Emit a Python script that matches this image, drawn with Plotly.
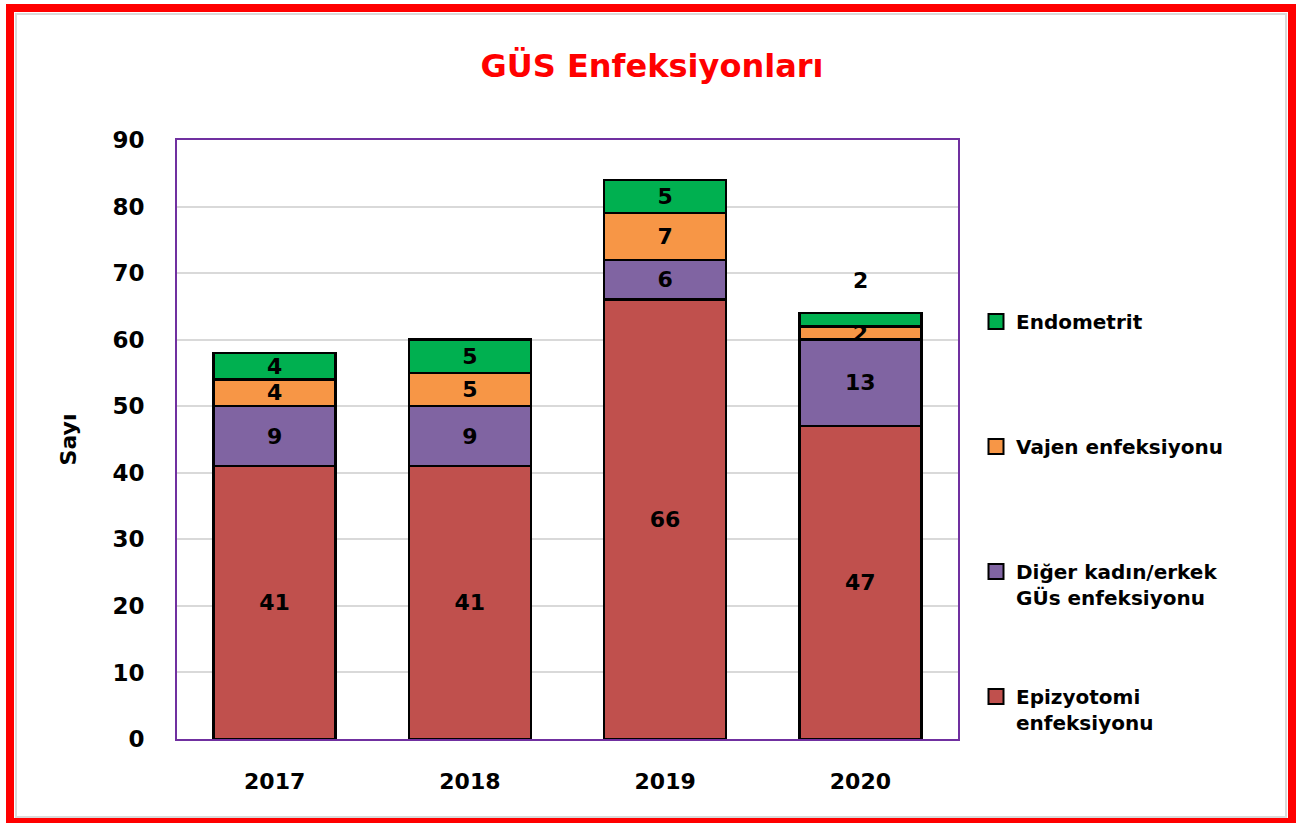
import plotly.graph_objects as go

years = ["2017", "2018", "2019", "2020"]
epizyotomi = [41, 41, 66, 47]
diger = [9, 9, 6, 13]
vajen = [4, 5, 7, 2]
endometrit = [4, 5, 5, 2]

names = ["Epizyotomi<br>enfeksiyonu", "Diğer kadın/erkek<br>GÜs enfeksiyonu",
         "Vajen enfeksiyonu<br> ", "Endometrit<br> "]
colors = ["#C0504D", "#8064A2", "#F79646", "#00B050"]
series = [epizyotomi, diger, vajen, endometrit]

W, H = 1304, 823
L, R, T, B = 177, 958, 140, 739

def px(x):
    return (x - L) / (R - L)

def py(y):
    return (B - y) / (B - T)

FONT = "DejaVu Sans"
fig = go.Figure()
for i, (nm, col, vals) in enumerate(zip(names, colors, series)):
    texts = [str(v) for v in vals]
    if i == 3:
        texts[3] = ""
    rank = 10 * (len(series) - i)
    fig.add_trace(go.Bar(
        x=years, y=vals, name=nm, legendgroup=str(i), showlegend=False, legendrank=rank,
        marker=dict(color=col, line=dict(color="black", width=2.5)),
        text=texts, textposition="inside", insidetextanchor="middle", textangle=0,
        textfont=dict(family=FONT, size=22, color="black", weight="bold"),
        width=0.625, cliponaxis=False,
    ))
    # legend entry with a larger square symbol
    fig.add_trace(go.Scatter(
        x=[None], y=[None], mode="markers", name=nm, legendgroup=str(i), legendrank=rank,
        marker=dict(symbol="square", size=15, color=col, line=dict(color="black", width=2)),
        hoverinfo="skip",
    ))

totals = [a + b + c + d for a, b, c, d in zip(epizyotomi, diger, vajen, endometrit)]
fig.add_annotation(x=len(years) - 1, y=totals[3], xref="x", yref="y", text=str(endometrit[3]),
                   showarrow=False, yanchor="bottom", yshift=18,
                   font=dict(family=FONT, size=22, color="black", weight="bold"))

shapes = [
    dict(type="rect", xref="paper", yref="paper", x0=px(10), x1=px(1292), y0=py(8), y1=py(822),
         line=dict(color="#FF0000", width=8)),
    dict(type="rect", xref="paper", yref="paper", x0=px(16), x1=px(1286), y0=py(14), y1=py(817),
         line=dict(color="#D9D9D9", width=2)),
]

fig.update_layout(
    width=W, height=H,
    margin=dict(l=L, r=W - R, t=T, b=H - B, pad=0),
    barmode="stack",
    paper_bgcolor="white", plot_bgcolor="white",
    title=dict(text="GÜS Enfeksiyonları", x=0.5, xref="container", xanchor="center",
               y=1 - 66 / H, yref="container", yanchor="middle",
               font=dict(family=FONT, size=32, color="#FF0000", weight="bold")),
    xaxis=dict(type="category", showline=True, mirror=True, linecolor="#7030A0", linewidth=2,
               tickfont=dict(family=FONT, size=22, color="black", weight="bold"),
               ticks="", ticklabelstandoff=22, range=[-0.5, 3.5]),
    yaxis=dict(range=[0, 90], dtick=10, showline=True, mirror=True, linecolor="#7030A0", linewidth=2,
               showgrid=True, gridcolor="#D9D9D9", gridwidth=2, zeroline=False,
               tickfont=dict(family=FONT, size=23, color="black", weight="bold"),
               ticks="", ticklabelstandoff=26,
               title=dict(text="Sayı", standoff=30,
                          font=dict(family=FONT, size=22, color="black", weight="bold"))),
    legend=dict(x=px(976), y=py(302), xanchor="left", yanchor="top",
                traceorder="grouped", tracegroupgap=70, valign="top",
                itemsizing="trace",
                font=dict(family=FONT, size=20, color="black", weight="bold"),
                bgcolor="rgba(0,0,0,0)"),
    uniformtext=dict(minsize=22, mode="show"),
    shapes=shapes,
    showlegend=True,
)

fig.write_html("out.html", config={"displayModeBar": False},
               post_script="document.body.style.margin='0';document.body.style.overflow='hidden';")
